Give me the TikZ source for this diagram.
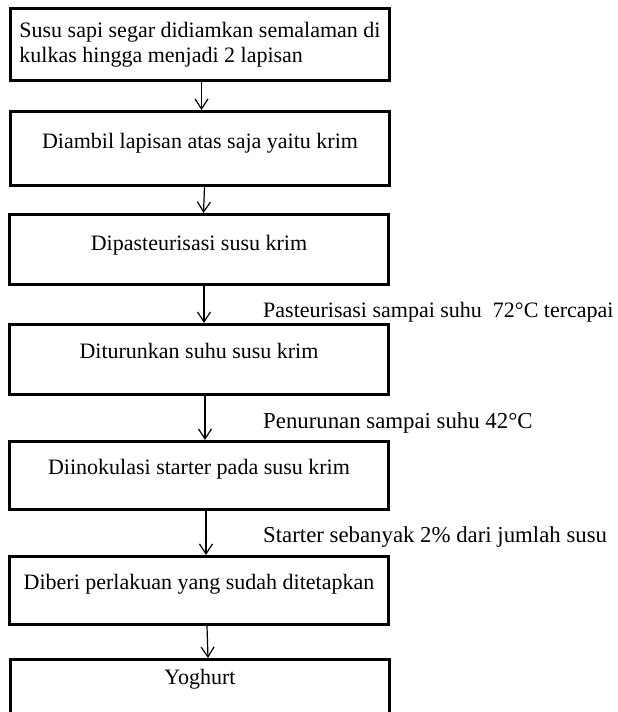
\documentclass[tikz,border=0pt]{standalone}
\usepackage{fontspec}
\setmainfont{Liberation Serif}
\usetikzlibrary{arrows.meta}
\tikzset{
  stepbox/.style={draw, line width=3pt, fill=white, minimum width=379pt,
    inner sep=0pt, anchor=north west, font=\fontsize{22}{25}\selectfont},
  flow/.style={-{Straight Barb[length=10pt,width=13pt]}, line width=1.2pt},
  note/.style={anchor=base west, inner sep=0pt, font=\fontsize{22.8}{25}\selectfont}
}
\begin{document}
\begin{tikzpicture}[x=1pt,y=-1pt]
\useasboundingbox (0,0) rectangle (618,712);

\node[stepbox, minimum height=72pt, align=left] (segar) at (9,7)
  {Susu sapi segar didiamkan semalaman di\\kulkas hingga menjadi 2 lapisan};
\node[stepbox, text height=37pt, text depth=37pt] (krim) at (9,110)
  {Diambil lapisan atas saja yaitu krim};
\node[stepbox, text height=36pt, text depth=34pt] (pasteur) at (8,213)
  {Dipasteurisasi susu krim};
\node[stepbox, text height=34pt, text depth=36pt] (turun) at (8,323)
  {Diturunkan suhu susu krim};
\node[stepbox, text height=33pt, text depth=35pt] (inokulasi) at (8,440)
  {Diinokulasi starter pada susu krim};
\node[stepbox, text height=33pt, text depth=35pt] (perlakuan) at (8,555)
  {Diberi perlakuan yang sudah ditetapkan};
\node[stepbox, text height=25pt, text depth=45pt] (yoghurt) at (9,658)
  {Yoghurt};

\draw[flow] ([xshift=1.5pt]segar.south) -- ([xshift=1.5pt]krim.north);
\draw[flow] ([xshift=4.5pt]krim.south) -- ([xshift=4.5pt]pasteur.north);
\draw[flow] ([xshift=5pt]pasteur.south) -- ([xshift=5pt]turun.north);
\draw[flow] ([xshift=6pt]turun.south) -- ([xshift=6pt]inokulasi.north);
\draw[flow] ([xshift=7pt]inokulasi.south) -- ([xshift=7pt]perlakuan.north);
\draw[flow] ([xshift=8pt]perlakuan.south) -- ([xshift=8pt]yoghurt.north);

\node[note, font=\fontsize{22}{25}\selectfont] (suhu72) at (263,317)
  {Pasteurisasi sampai suhu\ \ 72°C tercapai};
\node[note] (suhu42) at (263,428) {Penurunan sampai suhu 42°C};
\node[note] (starter) at (263,542) {Starter sebanyak 2\% dari jumlah susu};
\end{tikzpicture}
\end{document}
